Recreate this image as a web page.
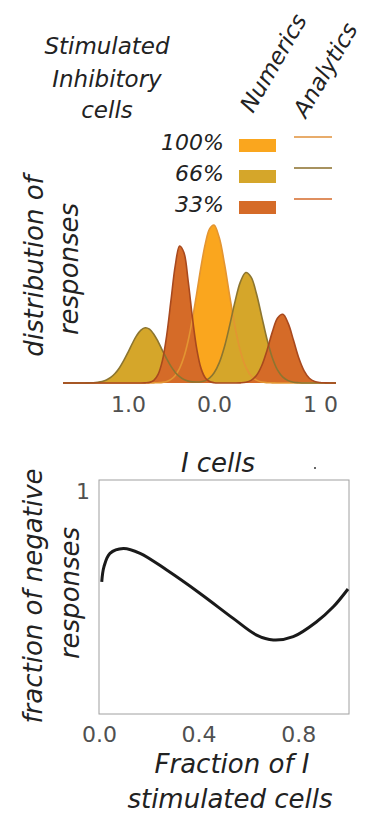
<!DOCTYPE html>
<html>
<head>
<meta charset="utf-8">
<script src="https://cdn.jsdelivr.net/npm/d3@7"></script>
<style>
  body { margin: 0; background: #fff; }
  text { font-family: "DejaVu Sans", sans-serif; }
</style>
</head>
<body>
<div id="chart"></div>
<script>
// top panel: distribution of responses, grid of response values
var responseX = [-1.75,-1.70,-1.65,-1.60,-1.55,-1.50,-1.45,-1.40,-1.35,-1.30,
	-1.25,-1.20,-1.15,-1.10,-1.05,-1.00,-0.95,-0.90,-0.85,-0.80,
	-0.75,-0.70,-0.65,-0.60,-0.55,-0.50,-0.45,-0.40,-0.35,-0.30,
	-0.25,-0.20,-0.15,-0.10,-0.05,0.00,0.05,0.10,0.15,0.20,
	0.25,0.30,0.35,0.40,0.45,0.50,0.55,0.60,0.65,0.70,
	0.75,0.80,0.85,0.90,0.95,1.00,1.05,1.10,1.15];

var dist100 = [0,0,0,0,0,0,0,0,0,0,
	0,0,0,0,0,0,0,0,0,0,
	0,.001,.002,.004,.010,.023,.048,.092,.164,.269,
	.407,.571,.739,.884,.977,1.0,.919,.750,.543,.349,
	.199,.100,.045,.018,.006,.002,.001,0,0,0,
	0,0,0,0,0,0,0,0,0];

var dist66 = [0,0,0,0,0,0,.001,.002,.005,.010,
	.019,.035,.060,.095,.141,.194,.250,.300,.335,.350,
	.341,.309,.262,.207,.153,.105,.067,.040,.022,.012,
	.007,.006,.008,.015,.032,.063,.129,.233,.371,.520,
	.642,.699,.670,.566,.422,.277,.160,.081,.037,.015,
	.005,.002,0,0,0,0,0,0,0];

var dist33 = [0,0,0,0,0,0,0,0,0,0,
	0,0,0,0,0,0,0,0,0,.001,
	.004,.017,.055,.142,.302,.524,.745,.867,.826,.644,
	.410,.214,.091,.032,.009,.002,0,0,0,0,
	.001,.005,.017,.047,.109,.206,.322,.412,.435,.377,
	.270,.158,.077,.030,.010,.003,.001,0,0];

var legendLabels = ['100%', '66%', '33%'];
var fillColors = ['#FAA61E', '#D5A62A', '#D56B28'];
var lineColors = ['#E39532', '#8C7530', '#A8491E'];
var legendLineColors = ['#E0913A', '#8A6E2A', '#D46A2A'];
var topTickValues = [-1, 0, 1];
var topTickLabels = ['1.0', '0.0', '1 0'];

// bottom panel: fraction of negative responses
var fracStim = [0.011, 0.020, 0.044, 0.098, 0.165, 0.272, 0.406, 0.539, 0.633, 0.700, 0.780, 0.874, 0.941, 1.0];
var fracNeg = [0.593, 0.661, 0.721, 0.743, 0.721, 0.646, 0.541, 0.429, 0.354, 0.332, 0.347, 0.414, 0.481, 0.561];
var bottomXTicks = [0, 0.4, 0.8];
var bottomYTicks = [1];

var width = 368,
	height = 814;

var svg = d3
	.select('#chart')
	.append('svg')
	.attr('width', width)
	.attr('height', height);

svg.append('rect').attr('width', width).attr('height', height).attr('fill', '#fff');

// ---------- top panel ----------
var xTop = d3
	.scaleLinear()
	.domain([-1.75, -1, 0, 1, 1.15])
	.range([63, 128, 214, 320, 336]);
var yTop = d3
	.scaleLinear()
	.domain([0, 1])
	.range([383, 225]);

var series = [dist100, dist66, dist33].map(function(vals, i) {
	return {
		label: legendLabels[i],
		values: vals.map(function(v, j) {
			return { x: responseX[j], y: v };
		})
	};
});

var smooth = d3.curveCatmullRom.alpha(0.5);

var area = d3
	.area()
	.curve(smooth)
	.x(function(d) { return xTop(d.x); })
	.y0(yTop(0))
	.y1(function(d) { return Math.min(yTop(d.y), yTop(0)); });

var line = d3
	.line()
	.curve(smooth)
	.x(function(d) { return xTop(d.x); })
	.y(function(d) { return yTop(d.y); });

var hist = svg.append('g').attr('class', 'hist');

hist
	.selectAll('.fill')
	.data(series)
	.enter()
	.append('path')
	.attr('class', 'fill')
	.attr('d', function(d) { return area(d.values); })
	.attr('fill', function(d, i) { return fillColors[i]; });

hist
	.selectAll('.curve')
	.data(series)
	.enter()
	.append('path')
	.attr('class', 'curve')
	.attr('d', function(d) { return line(d.values); })
	.attr('fill', 'none')
	.attr('stroke', function(d, i) { return lineColors[i]; })
	.attr('stroke-width', 1.6);

var topAxis = svg
	.append('g')
	.attr('transform', 'translate(0,' + yTop(0) + ')')
	.call(
		d3
			.axisBottom(xTop)
			.tickValues(topTickValues)
			.tickFormat(function(d, i) { return topTickLabels[i]; })
			.tickSize(0)
			.tickPadding(13)
	);
topAxis.select('.domain').remove();
topAxis
	.selectAll('text')
	.attr('font-size', 22)
	.attr('font-family', 'DejaVu Sans')
	.attr('fill', '#505050');

// y label
svg
	.append('text')
	.attr('transform', 'translate(43,266) rotate(-90)')
	.attr('text-anchor', 'middle')
	.attr('font-size', 26)
	.attr('font-style', 'italic')
	.attr('fill', '#222')
	.text('distribution of');
svg
	.append('text')
	.attr('transform', 'translate(78,269) rotate(-90)')
	.attr('text-anchor', 'middle')
	.attr('font-size', 26)
	.attr('font-style', 'italic')
	.attr('fill', '#222')
	.text('responses');

// legend title
var titleLines = ['Stimulated', 'Inhibitory', 'cells'];
svg
	.selectAll('.ltitle')
	.data(titleLines)
	.enter()
	.append('text')
	.attr('class', 'ltitle')
	.attr('x', 107)
	.attr('y', function(d, i) { return [54, 87, 118][i]; })
	.attr('text-anchor', 'middle')
	.attr('font-size', 23)
	.attr('font-style', 'italic')
	.attr('fill', '#222')
	.text(function(d) { return d; });

svg
	.append('text')
	.attr('transform', 'translate(253,114) rotate(-60)')
	.attr('font-size', 23)
	.attr('font-style', 'italic')
	.attr('fill', '#222')
	.text('Numerics');
svg
	.append('text')
	.attr('transform', 'translate(306,119) rotate(-60)')
	.attr('font-size', 23)
	.attr('font-style', 'italic')
	.attr('fill', '#222')
	.text('Analytics');

var rowY = [150, 181, 212];
var legend = svg
	.selectAll('.legrow')
	.data(series)
	.enter()
	.append('g')
	.attr('class', 'legrow')
	.attr('transform', function(d, i) { return 'translate(0,' + rowY[i] + ')'; });

legend
	.append('text')
	.attr('x', 224)
	.attr('text-anchor', 'end')
	.attr('font-size', 22)
	.attr('font-style', 'italic')
	.attr('fill', '#222')
	.text(function(d) { return d.label; });

legend
	.append('rect')
	.attr('x', 239)
	.attr('y', -11)
	.attr('width', 37)
	.attr('height', 13)
	.attr('fill', function(d, i) { return fillColors[i]; });

legend
	.append('line')
	.attr('x1', 294)
	.attr('x2', 332)
	.attr('y1', -13)
	.attr('y2', -13)
	.attr('stroke', function(d, i) { return legendLineColors[i]; })
	.attr('stroke-width', 1.5);

// ---------- bottom panel ----------
var xB = d3
	.scaleLinear()
	.domain([0, 1])
	.range([99, 348]);
var yB = d3
	.scaleLinear()
	.domain([0, 1.05])
	.range([714, 480]);

svg
	.append('rect')
	.attr('x', xB(0))
	.attr('y', yB(1.05))
	.attr('width', xB(1) - xB(0) + 1)
	.attr('height', yB(0) - yB(1.05))
	.attr('fill', 'none')
	.attr('stroke', '#a0a0a0')
	.attr('stroke-width', 1);

var xAxisB = svg
	.append('g')
	.attr('transform', 'translate(0,' + yB(0) + ')')
	.call(
		d3
			.axisBottom(xB)
			.tickValues(bottomXTicks)
			.tickFormat(d3.format('.1f'))
			.tickSize(0)
			.tickPadding(12)
	);
xAxisB.select('.domain').remove();
xAxisB
	.selectAll('text')
	.attr('font-size', 22)
	.attr('font-family', 'DejaVu Sans')
	.attr('fill', '#505050');

var yAxisB = svg
	.append('g')
	.attr('transform', 'translate(' + xB(0) + ',0)')
	.call(
		d3
			.axisLeft(yB)
			.tickValues(bottomYTicks)
			.tickFormat(d3.format('d'))
			.tickSize(0)
			.tickPadding(9)
	);
yAxisB.select('.domain').remove();
yAxisB
	.selectAll('text')
	.attr('font-size', 22)
	.attr('font-family', 'DejaVu Sans')
	.attr('fill', '#505050');

var curve = fracStim.map(function(v, i) {
	return { x: v, y: fracNeg[i] };
});

svg
	.append('path')
	.datum(curve)
	.attr('d', d3
		.line()
		.curve(d3.curveCatmullRom.alpha(0.5))
		.x(function(d) { return xB(d.x); })
		.y(function(d) { return yB(d.y); }))
	.attr('fill', 'none')
	.attr('stroke', '#1a1a1a')
	.attr('stroke-width', 3);

svg
	.append('text')
	.attr('x', 218)
	.attr('y', 472)
	.attr('text-anchor', 'middle')
	.attr('font-size', 26)
	.attr('font-style', 'italic')
	.attr('fill', '#222')
	.text('I cells');

// small stray mark next to the title
svg.append('circle').attr('cx', 315).attr('cy', 468).attr('r', 1).attr('fill', '#333');

svg
	.append('text')
	.attr('transform', 'translate(42,596) rotate(-90)')
	.attr('text-anchor', 'middle')
	.attr('font-size', 26)
	.attr('font-style', 'italic')
	.attr('fill', '#222')
	.text('fraction of negative');
svg
	.append('text')
	.attr('transform', 'translate(79,593) rotate(-90)')
	.attr('text-anchor', 'middle')
	.attr('font-size', 26)
	.attr('font-style', 'italic')
	.attr('fill', '#222')
	.text('responses');

svg
	.append('text')
	.attr('x', 232)
	.attr('y', 773)
	.attr('text-anchor', 'middle')
	.attr('font-size', 26)
	.attr('font-style', 'italic')
	.attr('fill', '#222')
	.text('Fraction of I');
svg
	.append('text')
	.attr('x', 230)
	.attr('y', 808)
	.attr('text-anchor', 'middle')
	.attr('font-size', 26)
	.attr('font-style', 'italic')
	.attr('fill', '#222')
	.text('stimulated cells');
</script>
</body>
</html>
